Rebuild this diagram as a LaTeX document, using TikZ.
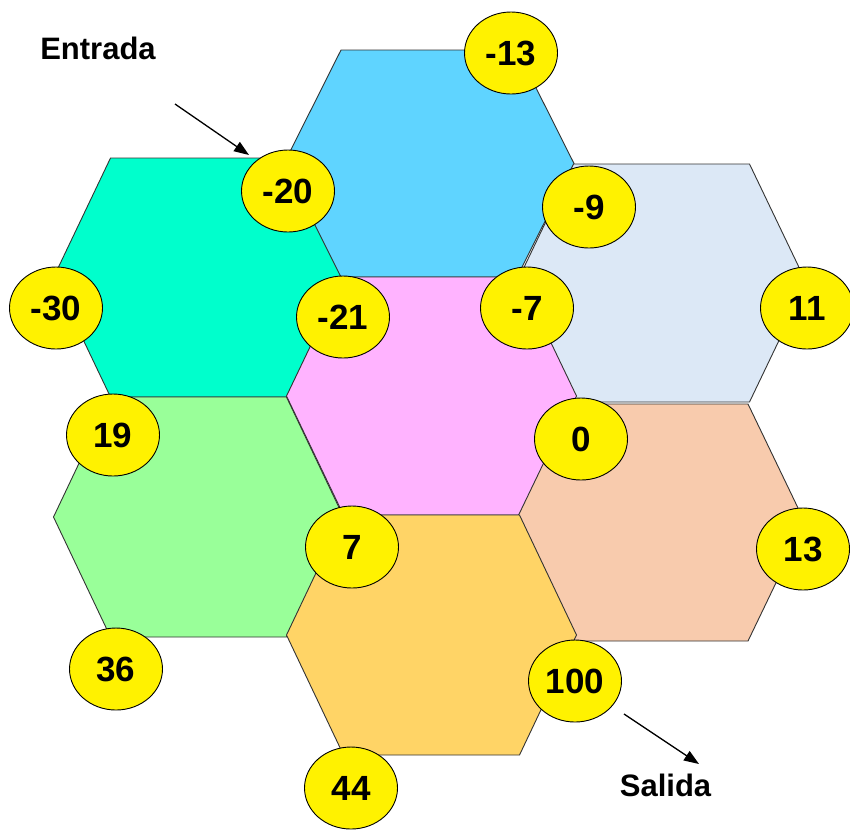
\documentclass[tikz,border=0pt]{standalone}
\usepackage{fontspec}
\setmainfont{Liberation Sans}
\usetikzlibrary{shapes.geometric,arrows.meta}
\definecolor{cteal}{HTML}{00FFCC}
\definecolor{cblue}{HTML}{5FD4FF}
\definecolor{clblue}{HTML}{DCE8F6}
\definecolor{cpink}{HTML}{FFB3FF}
\definecolor{cgreen}{HTML}{99FF99}
\definecolor{corange}{HTML}{FFD466}
\definecolor{cpeach}{HTML}{F8CBAD}
\definecolor{cedge}{HTML}{333333}
\tikzset{
  hexsty/.style={draw=cedge,line width=0.9pt,line join=miter},
  val/.style={ellipse,draw=black,line width=0.9pt,fill=yellow,minimum width=93pt,minimum height=82pt,inner sep=0pt,
    font=\fontsize{35}{40}\selectfont\bfseries},
  lbl/.style={font=\fontsize{31}{36}\selectfont\bfseries,inner sep=0pt},
  arr/.style={line width=1.3pt,-{Triangle[length=15pt,width=11pt]}}
}
% center x, center y, half height, fill colour
\newcommand\myhex[4]{\filldraw[hexsty,fill=#4] (#1-145,#2) -- (#1-88,#2-#3) -- (#1+88,#2-#3) -- (#1+145,#2) -- (#1+88,#2+#3) -- (#1-88,#2+#3) -- cycle;}
\begin{document}
\begin{tikzpicture}[x=1pt,y=-1pt]
\useasboundingbox (0,0) rectangle (850,831);
\myhex{198.5}{277.5}{119.5}{cteal}
\myhex{429}{163.5}{113.5}{cblue}
\myhex{661.5}{283}{119}{clblue}
\myhex{198.5}{517}{120}{cgreen}
\myhex{431.5}{396}{119}{cpink}
\myhex{660}{522.5}{118.5}{cpeach}
\myhex{431.5}{635}{120}{corange}
\node[val] (n13m) at (511,53) {-13};
\node[val] (n20m) at (288,191) {-20};
\node[val] (n9m) at (589,207) {-9};
\node[val] (n30m) at (56,308) {-30};
\node[val] (n21m) at (343,317) {-21};
\node[val] (n7m) at (527,308) {-7};
\node[val] (n11) at (807,308) {11};
\node[val] (n19) at (113,435) {19};
\node[val] (n0) at (581,439) {0};
\node[val] (n7) at (352,547) {7};
\node[val] (n13) at (803,549) {13};
\node[val] (n36) at (116,669) {36};
\node[val] (n100) at (575,681) {100};
\node[val] (n44) at (351,788) {44};
\node[lbl,anchor=base] (entrada) at (98,59) {Entrada};
\node[lbl,anchor=base] (salida) at (665.5,796) {Salida};
\coordinate (ein) at (175,104);
\coordinate (eout) at (249,155);
\coordinate (sin) at (624,714);
\coordinate (sout) at (699,764);
\draw[arr] (ein) -- (eout);
\draw[arr] (sin) -- (sout);
\end{tikzpicture}
\end{document}
